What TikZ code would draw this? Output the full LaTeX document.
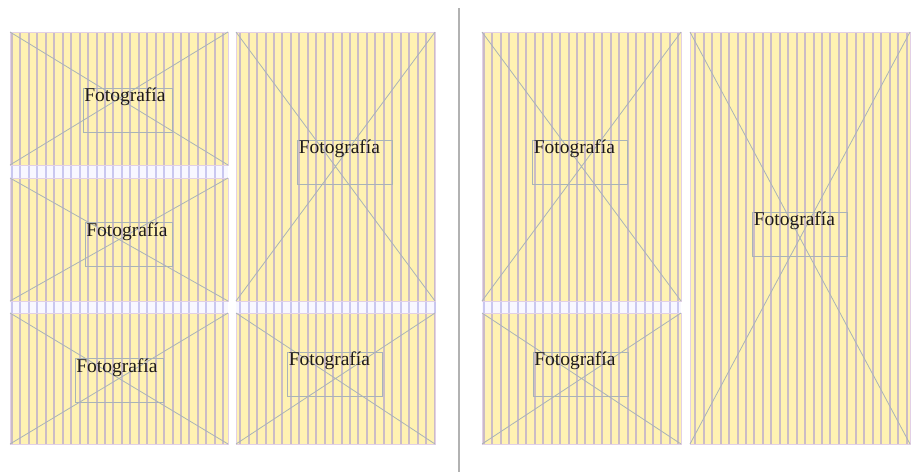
\documentclass[tikz,border=0pt]{standalone}
\usepackage{fontspec}
\setmainfont{Liberation Serif}
\usepackage{tikz}
\usepackage{xcolor}
\usetikzlibrary{positioning}
\definecolor{paper}{HTML}{FFF2B2}
\definecolor{rulecol}{HTML}{CBBCC6}
\definecolor{bandbg}{HTML}{F8F7FF}
\definecolor{bandrule}{HTML}{C9C7F0}
\definecolor{crosscol}{HTML}{A9B3B8}
\definecolor{edgecol}{HTML}{E2D0E6}
\definecolor{inkcol}{HTML}{1E1A1A}

\begin{document}
\begin{tikzpicture}[x=1pt,y=-1pt,
  every node/.style={font=\fontsize{19.5}{21}\selectfont},
  rule/.style={rulecol,line width=2pt},
  bandline/.style={bandrule,line width=2pt},
  edge/.style={edgecol,line width=0.8pt},
  cross/.style={crosscol,line width=0.8pt},
  fotobox/.style={draw=crosscol,line width=0.8pt,minimum width=95pt,minimum height=44pt,inner sep=0pt},
  fototext/.style={anchor=north west,inner sep=0pt,xshift=1.5pt,text=inkcol}]
\fill[white] (0,0) rectangle (919,472);
\useasboundingbox (0,0) rectangle (919,472);
% left page
\fill[paper] (10,32) rectangle (435,444);
\foreach \x in {12,20.45,...,435} \draw[rule] (\x,32) -- (\x,444);
\fill[white] (228,32) rectangle (236,444);
\fill[bandbg] (10,165) rectangle (228,178);
\fill[bandbg] (10,301) rectangle (228,313);
\fill[bandbg] (236,301) rectangle (435,313);
\foreach \x in {12,20.45,...,228} \draw[bandline] (\x,165) -- (\x,178) (\x,301) -- (\x,313);
\foreach \x in {240.15,248.6,...,435} \draw[bandline] (\x,301) -- (\x,313);
% right page
\fill[paper] (482,32) rectangle (910,444);
\foreach \x in {484,492.45,...,910} \draw[rule] (\x,32) -- (\x,444);
\fill[white] (681,32) rectangle (690,444);
\fill[bandbg] (482,301) rectangle (681,313);
\foreach \x in {484,492.45,...,681} \draw[bandline] (\x,301) -- (\x,313);
% frames with their crosses
\foreach \xa/\ya/\xb/\yb in {10/32/228/165, 10/178/228/301, 10/313/228/444,
    236/32/435/301, 236/313/435/444, 482/32/681/301, 482/313/681/444, 690/32/910/444}
{
  \draw[edge] (\xa,\ya) rectangle (\xb,\yb);
  \draw[cross] (\xa,\ya) -- (\xb,\yb) (\xa,\yb) -- (\xb,\ya);
}
% divider between the pages
\draw[black!30,line width=1.6pt] (459,8) -- (459,472);
% picture boxes
\node[fotobox,minimum width=89pt] (boxA) at (127.5,110) {};
\node[fototext] (txtA) at (boxA.north west) {Fotografía};
\node[fotobox,minimum width=87pt] (boxB) at (128.5,244.5) {};
\node[fototext] (txtB) at (boxB.north west) {Fotografía};
\node[fotobox,minimum width=88pt] (boxC) at (119,380.5) {};
\node[fototext] (txtC) at (boxC.north west) {Fotografía};
\node[fotobox] (boxD) at (345,162) {};
\node[fototext] (txtD) at (boxD.north west) {Fotografía};
\node[fotobox] (boxE) at (335,374) {};
\node[fototext] (txtE) at (boxE.north west) {Fotografía};
\node[fotobox] (boxF) at (580,162) {};
\node[fototext] (txtF) at (boxF.north west) {Fotografía};
\node[fotobox] (boxG) at (580.5,374) {};
\node[fototext] (txtG) at (boxG.north west) {Fotografía};
\node[fotobox] (boxH) at (800,234) {};
\node[fototext] (txtH) at (boxH.north west) {Fotografía};
\end{tikzpicture}
\end{document}
